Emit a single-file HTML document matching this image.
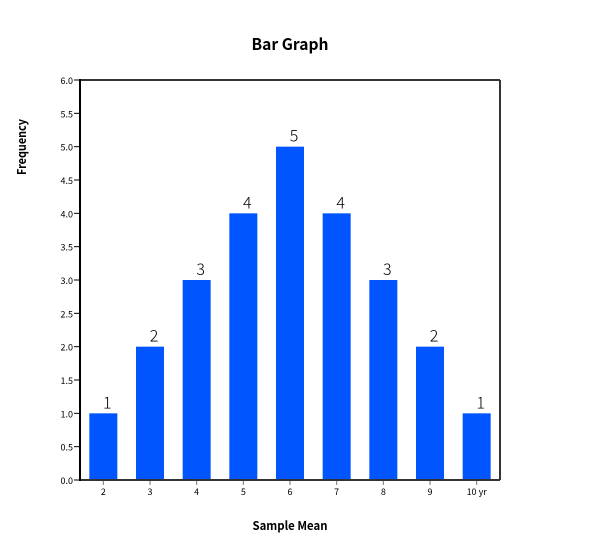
<!DOCTYPE html>
<html lang="en">
<head>
<meta charset="utf-8">
<title>Bar Graph</title>
<style>
html,body{margin:0;padding:0;background:#fff;}
svg{display:block;}
text{font-family:"Noto Sans CJK KR","Liberation Sans",sans-serif;fill:#000;}
</style>
</head>
<body>
<svg id="chart" xmlns="http://www.w3.org/2000/svg" width="600" height="560" viewBox="0 0 600 560">
  <text x="290" y="50" text-anchor="middle" font-size="16" font-weight="700" textLength="77" lengthAdjust="spacingAndGlyphs">Bar Graph</text>
  <text x="290" y="530" text-anchor="middle" font-size="12" font-weight="700" textLength="75" lengthAdjust="spacingAndGlyphs">Sample Mean</text>
  <text transform="translate(26,147) rotate(-90)" text-anchor="middle" font-size="12" font-weight="700" textLength="56" lengthAdjust="spacingAndGlyphs">Frequency</text>
  <g id="bars"></g>
  <g id="y-ticks"></g>
  <g id="x-ticks"></g>
  <g id="labels"></g>
  <line x1="80" y1="80" x2="500" y2="80" stroke="#333" stroke-width="2"/>
  <line x1="500" y1="80" x2="500" y2="480" stroke="#333" stroke-width="2"/>
  <line x1="80" y1="480" x2="500" y2="480" stroke="#333" stroke-width="2"/>
  <line x1="80" y1="79" x2="80" y2="481" stroke="#000" stroke-width="2"/>
</svg>
<script>
const categories = ['2', '3', '4', '5', '6', '7', '8', '9', '10 yr'];
const frequencies = [1, 2, 3, 4, 5, 4, 3, 2, 1];
const yTickValues = [0, 0.5, 1, 1.5, 2, 2.5, 3, 3.5, 4, 4.5, 5, 5.5, 6];
const yMax = 6;

const NS = 'http://www.w3.org/2000/svg';
const plot = { left: 80, right: 500, top: 80, bottom: 480 };
const band = (plot.right - plot.left) / categories.length;
const barWidth = band * 0.6;

function xCenter(i) {
  return plot.left + band * (i + 0.5);
}
function yScale(v) {
  return plot.bottom - (v / yMax) * (plot.bottom - plot.top);
}
function make(tag, attrs, parent, content) {
  const el = document.createElementNS(NS, tag);
  for (const k in attrs) el.setAttribute(k, attrs[k]);
  if (content !== undefined) el.textContent = content;
  parent.appendChild(el);
  return el;
}

const barsG = document.getElementById('bars');
const labelsG = document.getElementById('labels');
const xG = document.getElementById('x-ticks');
const yG = document.getElementById('y-ticks');

categories.forEach(function (cat, i) {
  const v = frequencies[i];
  const cx = xCenter(i);

  const bar = make('rect', { x: cx - barWidth / 2, y: yScale(v), width: barWidth, height: plot.bottom - yScale(v), fill: '#0055ff' }, barsG);
  
  

  const label = make('text', { x: cx + 4, y: yScale(v) - 5, 'text-anchor': 'middle', 'font-size': 16, 'font-weight': 300 }, labelsG, String(v));
  
  

  const tick = make('line', { x1: cx, y1: plot.bottom, x2: cx, y2: plot.bottom + 5, stroke: '#777', 'stroke-width': 1 }, xG);
  
  

  const tickLabel = make('text', { x: cx, y: plot.bottom + 15, 'text-anchor': 'middle', 'font-size': 9 }, xG, cat);
  
  
});

yTickValues.forEach(function (v) {
  const y = yScale(v);

  const tick = make('line', { x1: plot.left - 6, y1: y, x2: plot.left, y2: y, stroke: '#000', 'stroke-width': 1 }, yG);
  
  

  const tickLabel = make('text', { x: plot.left - 7, y: y + 4, 'text-anchor': 'end', 'font-size': 9 }, yG, v.toFixed(1));
  
  
});
</script>
</body>
</html>
